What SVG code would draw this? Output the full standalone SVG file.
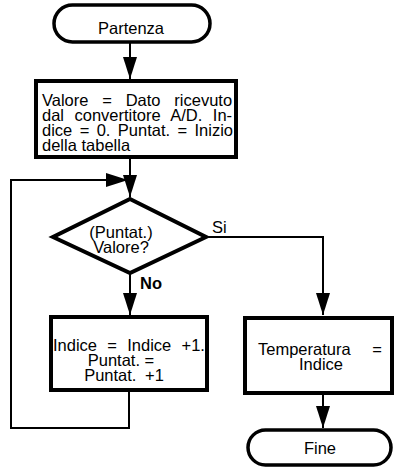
<svg xmlns="http://www.w3.org/2000/svg" width="394" height="472" viewBox="0 0 394 472">
<style>
.term{fill:#fff;stroke:#000;stroke-width:3.5}
.box{fill:#fff;stroke:#000;stroke-width:4}
.c{fill:none;stroke:#000;stroke-width:2}
text{font-family:"Liberation Sans",Arial,sans-serif;font-size:16.5px;fill:#000}
.m{text-anchor:middle}
</style>
<defs>
<marker id="ah" markerUnits="userSpaceOnUse" markerWidth="24" markerHeight="14" refX="22" refY="7" orient="auto">
<path d="M0,0 L22,7 L0,14 z" fill="#000"/>
</marker>
</defs>
<rect width="394" height="472" fill="#fff"/>
<g id="connectors">
<path class="c" d="M130,42 V79" marker-end="url(#ah)"/>
<path class="c" d="M130,158 V197" marker-end="url(#ah)"/>
<path class="c" d="M129,390 V428 H11 V180 H128" marker-end="url(#ah)"/>
<path class="c" d="M130,272 V315" marker-end="url(#ah)"/>
<path class="c" d="M206,237 H323 V315" marker-end="url(#ah)"/>
<path class="c" d="M323,393 V428" marker-end="url(#ah)"/>
</g>
<g id="start">
<rect class="term" x="54" y="5" width="156" height="37" rx="18.5"/>
<text class="m" x="131" y="34">Partenza</text>
</g>
<g id="init">
<rect class="box" x="36" y="81" width="200" height="76"/>
<text x="42" y="106" word-spacing="9.2">Valore = Dato ricevuto</text>
<text x="42" y="121" word-spacing="5.9">dal convertitore A/D. In-</text>
<text x="42" y="136" word-spacing="2.8">dice = 0. Puntat. = Inizio</text>
<text x="42" y="151">della tabella</text>
</g>
<g id="decision">
<polygon class="box" points="130,199 206,237 130,273 53,237"/>
<text class="m" x="121" y="238">(Puntat.)</text>
<text class="m" x="121" y="253">Valore?</text>
<text x="212" y="233">Si</text>
<text x="140" y="289" font-weight="bold">No</text>
</g>
<g id="increment">
<rect class="box" x="51" y="317" width="156" height="73"/>
<text x="53" y="351" word-spacing="5.7">Indice = Indice +1.</text>
<text class="m" x="121" y="366">Puntat. =</text>
<text class="m" x="124" y="381" word-spacing="4">Puntat. +1</text>
</g>
<g id="result">
<rect class="box" x="245" y="318" width="147" height="75"/>
<text x="258" y="355" word-spacing="17">Temperatura =</text>
<text class="m" x="321" y="370">Indice</text>
</g>
<g id="end">
<rect class="term" x="248" y="430" width="143" height="35" rx="17.5"/>
<text class="m" x="320" y="454">Fine</text>
</g>
</svg>
